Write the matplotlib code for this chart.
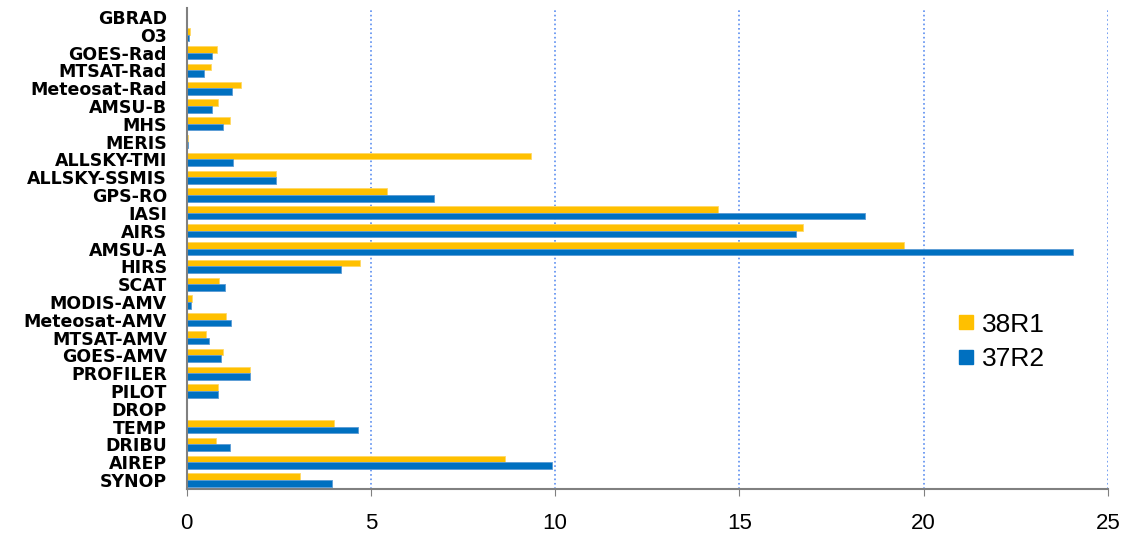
import numpy as np
import matplotlib.pyplot as plt
from matplotlib.lines import Line2D

plt.rcParams['font.family'] = ['Liberation Sans', 'DejaVu Sans']

# Observation types, bottom to top
obs_types = ['SYNOP', 'AIREP', 'DRIBU', 'TEMP', 'DROP', 'PILOT', 'PROFILER',
             'GOES-AMV', 'MTSAT-AMV', 'Meteosat-AMV', 'MODIS-AMV', 'SCAT',
             'HIRS', 'AMSU-A', 'AIRS', 'IASI', 'GPS-RO', 'ALLSKY-SSMIS',
             'ALLSKY-TMI', 'MERIS', 'MHS', 'AMSU-B', 'Meteosat-Rad',
             'MTSAT-Rad', 'GOES-Rad', 'O3', 'GBRAD']

r38r1 = [3.09, 8.63, 0.80, 4.01, 0.0, 0.84, 1.73,
         0.98, 0.53, 1.07, 0.14, 0.89,
         4.70, 19.47, 16.73, 14.43, 5.43, 2.42,
         9.34, 0.04, 1.17, 0.85, 1.47,
         0.66, 0.82, 0.10, 0.0]

r37r2 = [3.95, 9.91, 1.18, 4.65, 0.0, 0.86, 1.71,
         0.93, 0.60, 1.21, 0.12, 1.03,
         4.18, 24.06, 16.55, 18.41, 6.72, 2.42,
         1.27, 0.04, 0.98, 0.69, 1.23,
         0.47, 0.69, 0.08, 0.0]

yellow = '#FFC000'
blue = '#0070C0'

fig = plt.figure(figsize=(11.34, 5.37), dpi=100)
ax = fig.add_axes([0.1645, 0.0894, 0.8125, 0.8956])

y = np.arange(len(obs_types))
h = 0.37
ax.barh(y + h / 2, r38r1, height=h, color=yellow, edgecolor='#FFD966', linewidth=0.6, zorder=3)
ax.barh(y - h / 2, r37r2, height=h, color=blue, edgecolor='#5B9BD5', linewidth=0.6, zorder=3)

ax.set_xlim(0, 25)
ax.set_ylim(-0.5, len(obs_types) - 0.5)
ax.set_xticks([0, 5, 10, 15, 20, 25])
ax.set_yticks(y)
ax.set_yticklabels(obs_types, fontsize=12.5, fontweight='bold', family='DejaVu Sans')
ax.tick_params(axis='y', length=0, pad=14)
ax.tick_params(axis='x', length=5, color='#808080', labelsize=16, pad=12)

ax.grid(axis='x', color='#5B8EF0', linestyle=':', linewidth=1.2, zorder=0)
for s in ['top', 'right']:
    ax.spines[s].set_visible(False)
for s in ['left', 'bottom']:
    ax.spines[s].set_color('#808080')
    ax.spines[s].set_linewidth(1.5)
ax.spines['left'].set_zorder(4)

handles = [Line2D([], [], marker='s', linestyle='none', markersize=10, color=yellow),
           Line2D([], [], marker='s', linestyle='none', markersize=10, color=blue)]
ax.legend(handles, ['38R1', '37R2'], loc='upper left',
          bbox_to_anchor=(942 / 1134, 1 - 302 / 537), bbox_transform=fig.transFigure,
          frameon=False, fontsize=19, handletextpad=0.1, labelspacing=0.4,
          handlelength=1.0, borderaxespad=0)

fig.savefig('out.png', dpi=100)
